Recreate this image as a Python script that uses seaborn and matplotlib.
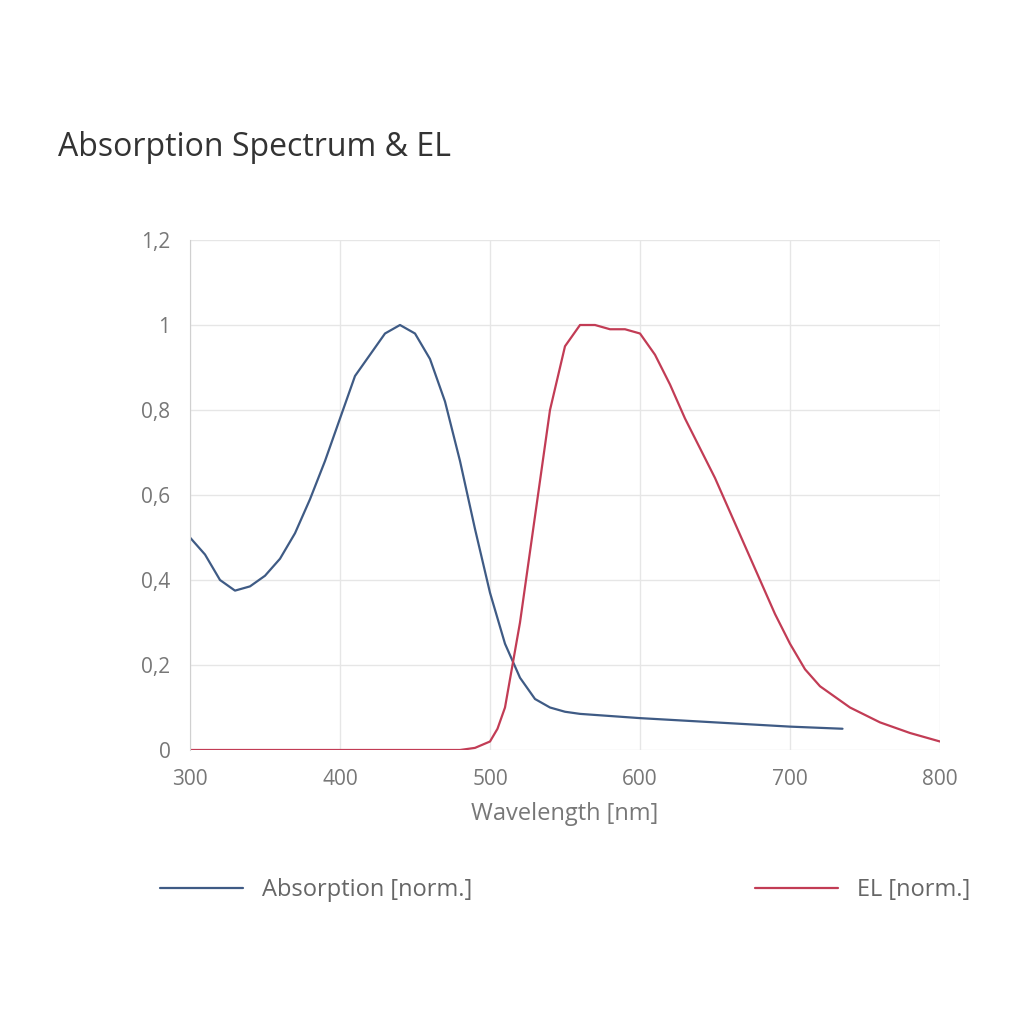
import matplotlib
matplotlib.use("Agg")
import matplotlib.pyplot as plt
import seaborn as sns
import pandas as pd

# absorption spectrum (normalised)
abs_wl = [300, 310, 320, 330, 340, 350, 360, 370, 380, 390, 400, 410, 420, 430, 440, 450,
          460, 470, 480, 490, 500, 510, 520, 530, 540, 550, 560, 600, 650, 700, 735]
abs_val = [0.50, 0.46, 0.40, 0.375, 0.385, 0.41, 0.45, 0.51, 0.59, 0.68, 0.78, 0.88, 0.93,
           0.98, 1.00, 0.98, 0.92, 0.82, 0.68, 0.52, 0.37, 0.25, 0.17, 0.12, 0.10, 0.09,
           0.085, 0.075, 0.065, 0.055, 0.05]

# electroluminescence (normalised)
el_wl = [300, 400, 480, 490, 500, 505, 510, 520, 530, 540, 550, 560, 570, 580, 590, 600,
         610, 620, 630, 640, 650, 660, 670, 680, 690, 700, 710, 720, 740, 760, 780, 800]
el_val = [0.0, 0.0, 0.0, 0.005, 0.02, 0.05, 0.10, 0.30, 0.55, 0.80, 0.95, 1.00, 1.00, 0.99,
          0.99, 0.98, 0.93, 0.86, 0.78, 0.71, 0.64, 0.56, 0.48, 0.40, 0.32, 0.25, 0.19,
          0.15, 0.10, 0.065, 0.04, 0.02]

df_abs = pd.DataFrame({"wl": abs_wl, "val": abs_val})
df_el = pd.DataFrame({"wl": el_wl, "val": el_val})

sns.set_style("white")
plt.rcParams['font.family'] = ['Open Sans', 'DejaVu Sans']

fig = plt.figure(figsize=(10.24, 10.24), dpi=100)
ax = fig.add_axes([190/1024, 1 - 750/1024, 750/1024, 510/1024])

sns.lineplot(data=df_abs, x="wl", y="val", ax=ax, color="#3f5b85", lw=1.6,
             label="Absorption [norm.]")
sns.lineplot(data=df_el, x="wl", y="val", ax=ax, color="#c23c55", lw=1.6,
             label="EL [norm.]")

ax.set_xlim(300, 800)
ax.set_ylim(0, 1.2)
ax.set_xticks([300, 400, 500, 600, 700, 800])
yt = [0, 0.2, 0.4, 0.6, 0.8, 1, 1.2]
ax.set_yticks(yt)
ax.set_yticklabels(["0", "0,2", "0,4", "0,6", "0,8", "1", "1,2"])
ax.grid(True, color="#e6e6e6", lw=1)
for s in ["top", "right", "bottom"]:
    ax.spines[s].set_visible(False)
ax.spines["left"].set_color("#d0d0d0")
ax.tick_params(axis="both", colors="#777777", labelsize=15, length=0, pad=14)
ax.set_xlabel("Wavelength [nm]", fontsize=17, color="#777777", labelpad=8)
ax.set_ylabel("")

ax.legend(loc="upper center", bbox_to_anchor=(0.5, -0.21), ncol=2, frameon=False,
          fontsize=17, labelcolor="#666666", handlelength=3.5, columnspacing=12)

fig.text(58/1024, 1 - 148/1024, "Absorption Spectrum & EL", fontsize=23,
         color="#333333", va="center")

fig.savefig("out.png", dpi=100, facecolor="white")
